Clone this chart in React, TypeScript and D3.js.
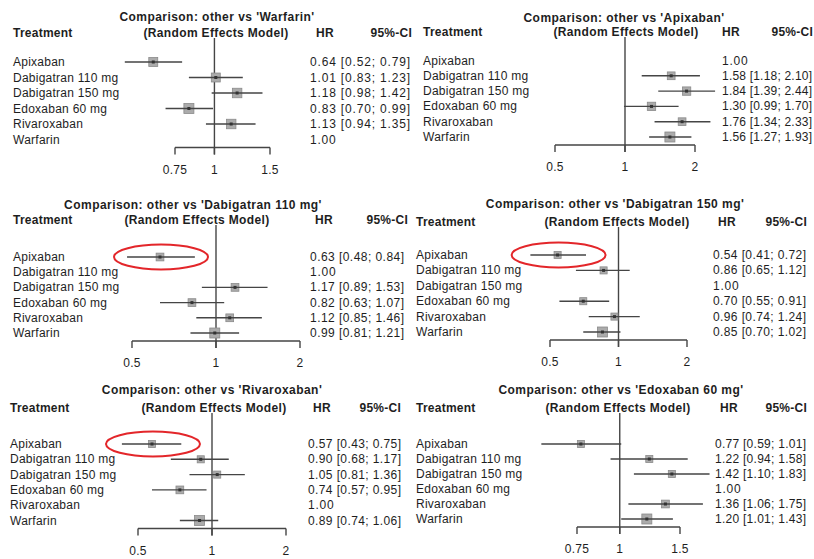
import React from "react";
import * as d3 from "d3";

// ---------- data ----------
const treatments = [
  "Apixaban",
  "Dabigatran 110 mg",
  "Dabigatran 150 mg",
  "Edoxaban 60 mg",
  "Rivaroxaban",
  "Warfarin",
];

const comparators = [
  "Warfarin",
  "Apixaban",
  "Dabigatran 110 mg",
  "Dabigatran 150 mg",
  "Rivaroxaban",
  "Edoxaban 60 mg",
];

// HR, lower, upper for each comparison (null = reference treatment)
const hrWarfarin = [0.64, 1.01, 1.18, 0.83, 1.13, 1.0];
const loWarfarin = [0.52, 0.83, 0.98, 0.7, 0.94, null];
const hiWarfarin = [0.79, 1.23, 1.42, 0.99, 1.35, null];

const hrApixaban = [1.0, 1.58, 1.84, 1.3, 1.76, 1.56];
const loApixaban = [null, 1.18, 1.39, 0.99, 1.34, 1.27];
const hiApixaban = [null, 2.1, 2.44, 1.7, 2.33, 1.93];

const hrDabi110 = [0.63, 1.0, 1.17, 0.82, 1.12, 0.99];
const loDabi110 = [0.48, null, 0.89, 0.63, 0.85, 0.81];
const hiDabi110 = [0.84, null, 1.53, 1.07, 1.46, 1.21];

const hrDabi150 = [0.54, 0.86, 1.0, 0.7, 0.96, 0.85];
const loDabi150 = [0.41, 0.65, null, 0.55, 0.74, 0.7];
const hiDabi150 = [0.72, 1.12, null, 0.91, 1.24, 1.02];

const hrRivaro = [0.57, 0.9, 1.05, 0.74, 1.0, 0.89];
const loRivaro = [0.43, 0.68, 0.81, 0.57, null, 0.74];
const hiRivaro = [0.75, 1.17, 1.36, 0.95, null, 1.06];

const hrEdox = [0.77, 1.22, 1.42, 1.0, 1.36, 1.2];
const loEdox = [0.59, 0.94, 1.1, null, 1.06, 1.01];
const hiEdox = [1.01, 1.58, 1.83, null, 1.75, 1.43];

// relative weights (square size)
const wWarfarin = [0.8, 0.8, 0.9, 1.0, 0.9, 0];
const wApixaban = [0, 0.6, 0.7, 0.7, 0.6, 1.0];
const wDabi110 = [0.6, 0, 0.6, 0.6, 0.6, 1.0];
const wDabi150 = [0.5, 0.5, 0, 0.5, 0.5, 1.0];
const wRivaro = [0.5, 0.5, 0.5, 0.6, 0, 1.0];
const wEdox = [0.5, 0.5, 0.5, 0, 0.6, 1.0];

const ticksA = [0.75, 1, 1.5];
const ticksB = [0.5, 1, 2];

const highlighted = [false, false, true, true, true, false];

// ---------- layout (per panel) ----------
const layouts = [
  { labelX: 13, t1Y: 17, t2Y: 33, t1Cx: 217, t2Cx: 216, row0: 62, step: 15.5, ax: [175, 270], hrX: 310, ciR: 410, hrHX: 316, ciHR: 412 },
  { labelX: 423, t1Y: 18, t2Y: 32, t1Cx: 624, t2Cx: 626, row0: 60.5, step: 15.3, ax: [555, 695], hrX: 722, ciR: 812, hrHX: 722, ciHR: 813 },
  { labelX: 13, t1Y: 205, t2Y: 220, t1Cx: 193, t2Cx: 197, row0: 257, step: 15.2, ax: [132, 300], hrX: 310, ciR: 404, hrHX: 315, ciHR: 408 },
  { labelX: 416, t1Y: 204, t2Y: 222, t1Cx: 615, t2Cx: 617, row0: 255, step: 15.4, ax: [550, 687], hrX: 713, ciR: 806, hrHX: 718, ciHR: 807 },
  { labelX: 10, t1Y: 390, t2Y: 408, t1Cx: 212, t2Cx: 214, row0: 444, step: 15.3, ax: [138, 286], hrX: 308, ciR: 401, hrHX: 313, ciHR: 401 },
  { labelX: 416, t1Y: 390, t2Y: 408, t1Cx: 621, t2Cx: 618, row0: 444, step: 15, ax: [577, 680], hrX: 715, ciR: 806, hrHX: 720, ciHR: 807 },
];

const panelsData = [
  { hr: hrWarfarin, lo: loWarfarin, hi: hiWarfarin, w: wWarfarin, ticks: ticksA },
  { hr: hrApixaban, lo: loApixaban, hi: hiApixaban, w: wApixaban, ticks: ticksB },
  { hr: hrDabi110, lo: loDabi110, hi: hiDabi110, w: wDabi110, ticks: ticksB },
  { hr: hrDabi150, lo: loDabi150, hi: hiDabi150, w: wDabi150, ticks: ticksB },
  { hr: hrRivaro, lo: loRivaro, hi: hiRivaro, w: wRivaro, ticks: ticksB },
  { hr: hrEdox, lo: loEdox, hi: hiEdox, w: wEdox, ticks: ticksA },
];

const FONT = "'Liberation Sans', Arial, Helvetica, sans-serif";
const TXT = "#1e1e1e";
const LINE = "#454545";
const fmt = d3.format(".2f");

function Panel({ idx }: { idx: number }) {
  const L = layouts[idx];
  const D = panelsData[idx];
  const tks = D.ticks;
  const x = d3.scaleLog().domain([tks[0], tks[tks.length - 1]]).range(L.ax);
  const y = (i: number) => L.row0 + i * L.step;
  const size = d3.scaleSqrt().domain([0, 1]).range([0, 10]);
  const axisY = y(treatments.length - 1) + 8;
  const refTop = L.t2Y + 5;
  const tickLen = 7;
  const fs = 12;
  const ls = 0.25;
  const ix = 0;

  return (
    <g fontFamily={FONT} fill={TXT} letterSpacing={ls}>
      <text x={L.t1Cx} y={L.t1Y} fontSize={fs} fontWeight="bold" textAnchor="middle" dominantBaseline="central" letterSpacing={0.45}>
        {`Comparison: other vs '${comparators[idx]}'`}
      </text>
      <text x={L.t2Cx} y={L.t2Y} fontSize={fs} fontWeight="bold" textAnchor="middle" dominantBaseline="central" letterSpacing={0.35}>
        (Random Effects Model)
      </text>
      <text x={L.labelX} y={L.t2Y} fontSize={fs} fontWeight="bold" dominantBaseline="central">Treatment</text>
      <text x={L.hrHX} y={L.t2Y} fontSize={fs} fontWeight="bold" dominantBaseline="central">HR</text>
      <text x={L.ciHR} y={L.t2Y} fontSize={fs} fontWeight="bold" textAnchor="end" dominantBaseline="central">95%-CI</text>

      {/* reference line */}
      <line x1={x(1)} x2={x(1)} y1={refTop} y2={axisY + tickLen} stroke={LINE} strokeWidth={1.4} />

      {/* axis */}
      <line x1={x(tks[0])} x2={x(tks[tks.length - 1])} y1={axisY} y2={axisY} stroke={LINE} strokeWidth={1.4} />
      {tks.map((t) => (
        <g key={t}>
          <line x1={x(t)} x2={x(t)} y1={axisY} y2={axisY + tickLen} stroke={LINE} strokeWidth={1.4} />
          <text x={x(t)} y={axisY + 22} fontSize={fs} textAnchor="middle" dominantBaseline="central">
            {String(t)}
          </text>
        </g>
      ))}

      {treatments.map((name, i) => {
        const hr = D.hr[i];
        const lo = D.lo[i];
        const hi = D.hi[i];
        const s = size(D.w[i]);
        const yy = y(i);
        const hasCI = lo !== null && hi !== null;
        return (
          <g key={name}>
            <text x={L.labelX} y={yy} fontSize={fs} dominantBaseline="central">{name}</text>
            {hasCI ? (
              <text
                x={L.hrX}
                y={yy}
                fontSize={fs}
                dominantBaseline="central"
                letterSpacing={0}
                textLength={L.ciR - L.hrX}
                lengthAdjust="spacing"
              >
                {`${fmt(hr)} [${fmt(lo as number)}; ${fmt(hi as number)}]`}
              </text>
            ) : (
              <text x={L.hrX} y={yy} fontSize={fs} dominantBaseline="central" letterSpacing={0.8}>
                {fmt(hr)}
              </text>
            )}
            {hasCI && (
              <>
                <rect x={x(hr) - s / 2} y={yy - s / 2} width={s} height={s} fill="#ababab" stroke="#8a8a8a" strokeWidth={0.8} />
                <line x1={x(lo as number)} x2={x(hi as number)} y1={yy} y2={yy} stroke={LINE} strokeWidth={1.4} />
                <rect x={x(hr) - 1.5} y={yy - 1.5} width={3} height={3} fill="#333" />
              </>
            )}
          </g>
        );
      })}

      {highlighted[idx] && (
        <ellipse
          cx={x(D.hr[ix]) + 1}
          cy={y(ix)}
          rx={47}
          ry={12.5}
          fill="none"
          stroke="#e3262a"
          strokeWidth={2}
        />
      )}
    </g>
  );
}

export default function App() {
  return (
    <svg
      width={814}
      height={559}
      viewBox="0 0 814 559"
      style={{ position: "absolute", left: 0, top: 0, background: "#fff" }}
    >
      <rect width={814} height={559} fill="#fff" />
      {comparators.map((c, i) => (
        <Panel key={c} idx={i} />
      ))}
    </svg>
  );
}
